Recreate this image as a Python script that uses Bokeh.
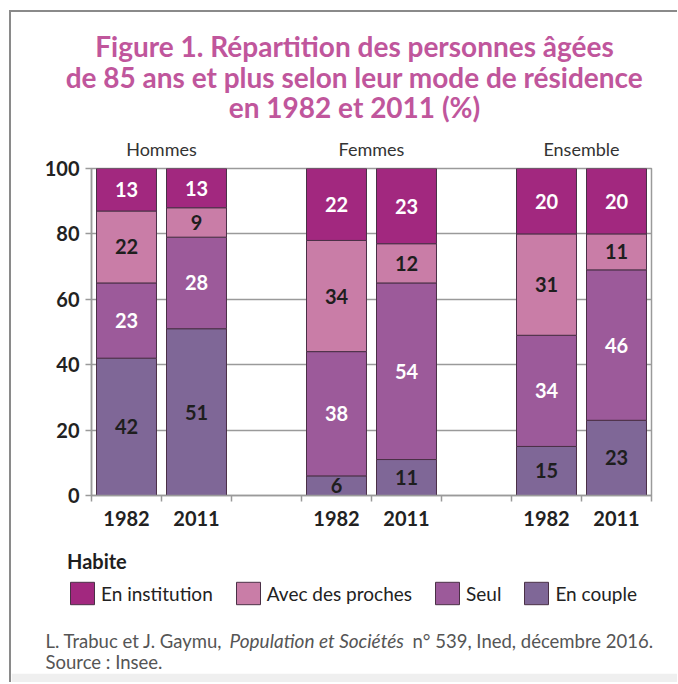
from bokeh.plotting import figure
from bokeh.layouts import column
from bokeh.models import (ColumnDataSource, FixedTicker, LinearAxis, Range1d,
                          Legend, LegendItem)
from bokeh.embed import file_html
from bokeh.resources import INLINE
from bokeh.core.properties import value

# ---------------- data ----------------
groups = ["Hommes", "Femmes", "Ensemble"]
group_pos = [0.5, 3.5, 6.5]
years = ["1982", "2011", "1982", "2011", "1982", "2011"]
bar_pos = [0, 1, 3, 4, 6, 7]
couple = [42, 51, 6, 11, 15, 23]
seul = [23, 28, 38, 54, 34, 46]
proches = [22, 9, 34, 12, 31, 11]
institution = [13, 13, 22, 23, 20, 20]
series_names = ["En couple", "Seul", "Avec des proches", "En institution"]
y_ticks = [0, 20, 40, 60, 80, 100]

title_lines = ["Figure 1. Répartition des personnes âgées",
               "de 85 ans et plus selon leur mode de résidence",
               "en 1982 et 2011 (%)"]
legend_title = "Habite"
source_a = "L. Trabuc et J. Gaymu,"
source_b = "Population et Sociétés"
source_c = "n° 539, Ined, décembre 2016."
source_2 = "Source : Insee."

# ---------------- styles ----------------
colors = ["#7f6797", "#9c5a9a", "#c97da7", "#a2287f"]
label_colors = ["#1e1e1e", "#ffffff", "#1e1e1e", "#ffffff"]
title_color = "#c0569c"
FONT = "Lato"
W = 666
H_TOP, H_MAIN, H_BOT = 116, 412, 142
BAND = 9


def blank(h, band=0, band_color="white"):
    f = figure(width=W, height=h, x_range=Range1d(0, W), y_range=Range1d(h - band, 0),
               output_backend="svg", toolbar_location=None, title=None,
               x_axis_location=None, y_axis_location=None, min_border=0,
               min_border_bottom=band)
    f.frame_align = False
    f.grid.visible = False
    f.outline_line_color = None
    f.background_fill_color = "white"
    f.border_fill_color = band_color
    return f


# ---------------- title ----------------
pt = blank(H_TOP)
pt.text(x=[343] * 3, y=[33, 64, 94], text=title_lines, text_align="center",
        text_baseline="middle", text_font=value(FONT), text_font_style="bold",
        text_font_size="28px", text_color=title_color)

# ---------------- main chart ----------------
FL, FW, FT, FH = 80, 560, 40, 327
p = figure(width=W, height=H_MAIN, x_range=Range1d(-0.5, 7.5), y_range=Range1d(0, 100),
           output_backend="svg", toolbar_location=None,
           min_border_left=FL, min_border_right=W - FL - FW,
           min_border_top=FT, min_border_bottom=H_MAIN - FT - FH)
p.frame_align = False
p.background_fill_color = "white"
p.border_fill_color = "white"
p.outline_line_color = "#9a9a9a"
p.outline_line_width = 1.5

series = [couple, seul, proches, institution]
bottom = [0] * len(bar_pos)
lab_x, lab_y, lab_t, lab_c = [], [], [], []
for vals, col, lcol in zip(series, colors, label_colors):
    top = [b + v for b, v in zip(bottom, vals)]
    src = ColumnDataSource(dict(x=bar_pos, bottom=bottom, top=top))
    p.vbar(x="x", bottom="bottom", top="top", width=0.857, source=src,
           fill_color=col, line_color="#4a3046", line_width=1)
    for xx, b, t, v in zip(bar_pos, bottom, top, vals):
        lab_x.append(xx)
        lab_y.append((b + min(t, 100)) / 2.0)
        lab_t.append(str(v))
        lab_c.append(lcol)
    bottom = top

lsrc = ColumnDataSource(dict(x=lab_x, y=lab_y, t=lab_t, c=lab_c))
p.text(x="x", y="y", text="t", text_color="c", source=lsrc,
       text_font=value(FONT), text_font_style="bold", text_font_size="20px",
       text_align="center", text_baseline="middle")

p.xgrid.visible = False
p.ygrid.ticker = FixedTicker(ticks=y_ticks)
p.ygrid.grid_line_color = "#9a9a9a"
p.ygrid.grid_line_width = 1.5

xa = p.xaxis[0]
xa.ticker = FixedTicker(ticks=bar_pos, minor_ticks=[-0.5 + i for i in range(9)])
xa.major_label_overrides = {k: v for k, v in zip(bar_pos, years)}
xa.major_tick_line_color = None
xa.major_tick_out = 0
xa.major_tick_in = 0
xa.minor_tick_in = 0
xa.minor_tick_out = 6
xa.minor_tick_line_color = "#9a9a9a"
xa.minor_tick_line_width = 1.5
xa.axis_line_color = "#9a9a9a"
xa.axis_line_width = 1.5
xa.major_label_standoff = 9
xa.major_label_text_font = FONT
xa.major_label_text_font_style = "bold"
xa.major_label_text_font_size = "20px"
xa.major_label_text_color = "#222222"

ya = p.yaxis[0]
ya.ticker = FixedTicker(ticks=y_ticks)
ya.major_tick_in = 0
ya.major_tick_out = 6
ya.major_tick_line_color = "#9a9a9a"
ya.major_tick_line_width = 1.5
ya.minor_tick_line_color = None
ya.axis_line_color = "#9a9a9a"
ya.axis_line_width = 1.5
ya.major_label_standoff = 6
ya.major_label_text_font = FONT
ya.major_label_text_font_style = "bold"
ya.major_label_text_font_size = "20px"
ya.major_label_text_color = "#222222"

ta = LinearAxis(ticker=FixedTicker(ticks=group_pos),
                major_label_overrides={k: v for k, v in zip(group_pos, groups)})
ta.axis_line_color = None
ta.major_tick_line_color = None
ta.minor_tick_line_color = None
ta.major_tick_out = 0
ta.major_label_standoff = 9
ta.major_label_text_font = FONT
ta.major_label_text_font_size = "18px"
ta.major_label_text_color = "#333333"
p.add_layout(ta, "above")

# ---------------- legend + source ----------------
pb = blank(H_BOT, band=BAND, band_color="#efefef")
nan = float("nan")
proxies = [pb.vbar(x=[nan], top=[nan], width=1, fill_color=c, line_color="#4a3046",
                   line_width=1) for c in colors]
items = [LegendItem(label=series_names[i], renderers=[proxies[i]]) for i in [3, 2, 1, 0]]
legend = Legend(items=items, orientation="horizontal", location=(56, H_BOT - BAND - 67),
                title=legend_title, title_text_font=FONT, title_text_font_style="bold",
                title_text_font_size="20px", title_text_color="#1e1e1e", title_standoff=6,
                label_text_font=FONT, label_text_font_size="19px", label_text_color="#222222",
                glyph_width=30, glyph_height=28, spacing=20, label_standoff=4,
                padding=0, margin=0, border_line_color=None, background_fill_alpha=0)
pb.add_layout(legend)

pb.text(x=[34], y=[100], text=[source_a], text_align="left", text_baseline="middle",
        text_font=value(FONT), text_font_size="18.5px", text_color="#555555")
pb.text(x=[218], y=[100], text=[source_b], text_align="left", text_baseline="middle",
        text_font=value(FONT), text_font_style="italic", text_font_size="19px",
        text_color="#555555")
pb.text(x=[401], y=[100], text=[source_c], text_align="left", text_baseline="middle",
        text_font=value(FONT), text_font_size="18.5px", text_color="#555555")
pb.text(x=[34], y=[121], text=[source_2], text_align="left", text_baseline="middle",
        text_font=value(FONT), text_font_size="18.5px", text_color="#555555")

layout = column(pt, p, pb, spacing=0)
layout.styles = {"margin-left": "9px", "margin-top": "10px",
                 "border-left": "2px solid #8a8a8a", "border-top": "2px solid #8a8a8a"}
open("out.html", "w").write(file_html(layout, INLINE))
